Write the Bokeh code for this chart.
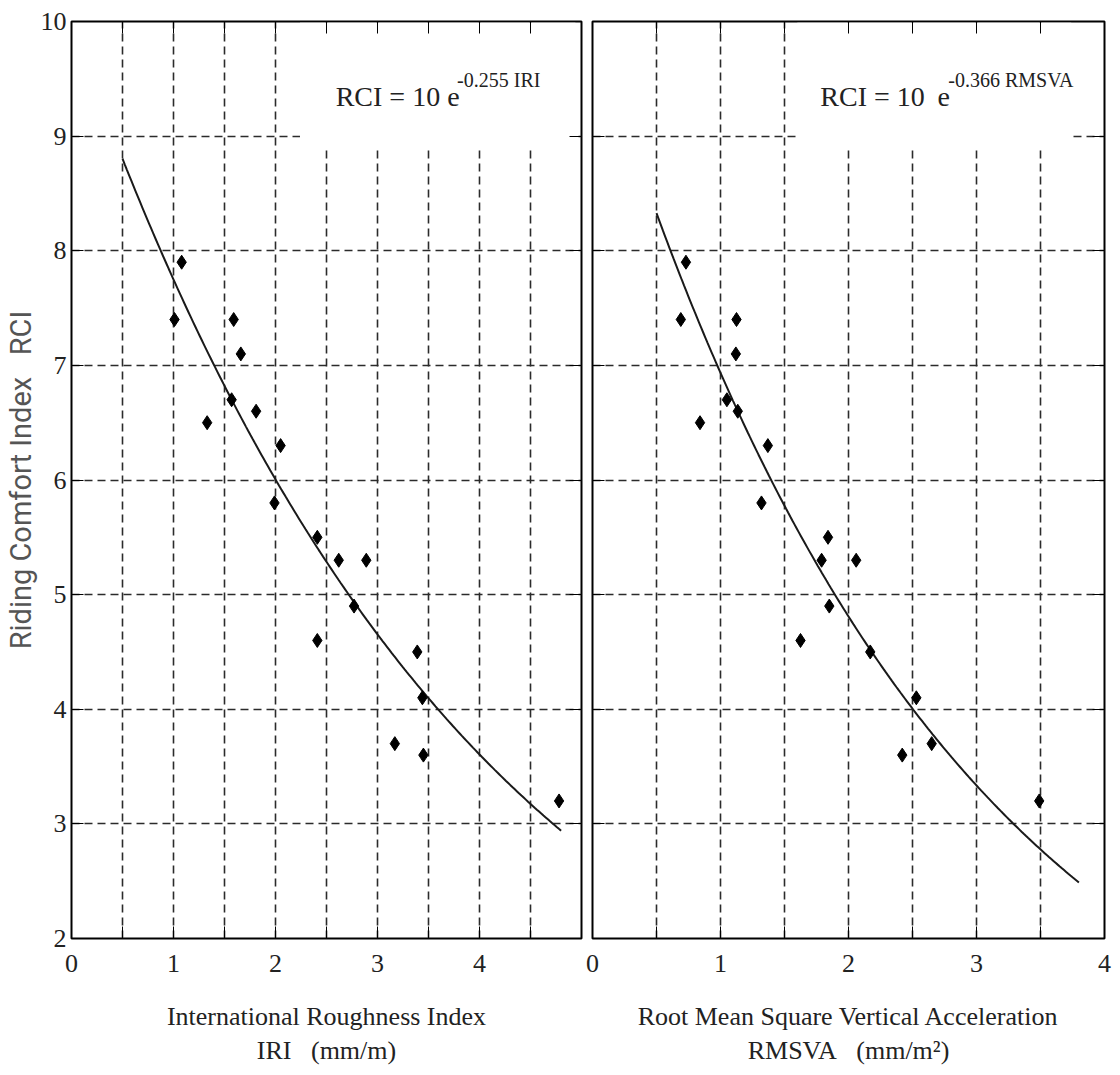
import numpy as np
from bokeh.plotting import figure
from bokeh.models import FixedTicker, LinearAxis, Label, CustomJSTickFormatter, Range1d
from bokeh.layouts import row
from bokeh.embed import file_html
from bokeh.resources import INLINE

# ---------------- data ----------------
iri = [1.01, 1.08, 1.33, 1.59, 1.66, 1.57, 1.81, 2.05, 1.99, 2.41,
       2.62, 2.89, 2.77, 2.41, 3.39, 3.44, 3.17, 3.45, 4.78]
rci_iri = [7.4, 7.9, 6.5, 7.4, 7.1, 6.7, 6.6, 6.3, 5.8, 5.5,
           5.3, 5.3, 4.9, 4.6, 4.5, 4.1, 3.7, 3.6, 3.2]

rmsva = [0.73, 0.69, 1.125, 1.12, 1.05, 1.135, 0.84, 1.37, 1.32, 1.84,
         1.79, 2.06, 1.85, 1.625, 2.17, 2.53, 2.65, 2.42, 3.49]
rci_rmsva = [7.9, 7.4, 7.4, 7.1, 6.7, 6.6, 6.5, 6.3, 5.8, 5.5,
             5.3, 5.3, 4.9, 4.6, 4.5, 4.1, 3.7, 3.6, 3.2]

# fitted models as printed on the chart: RCI = 10 e^(-k x)
fit_a = 10.0
fit_k_iri = 0.255
fit_k_rmsva = 0.366
fit_range_iri = (0.5, 4.8)
fit_range_rmsva = (0.5, 3.8)

x_ticks_left = [0, 1, 2, 3, 4]
x_ticks_right = [0, 1, 2, 3, 4]
y_ticks = [2, 3, 4, 5, 6, 7, 8, 9, 10]

SERIF = "Liberation Serif"
GRID_COLOR = "#2b2b2b"
NB = "\u00a0"


def blank_axis(ticker, tick_len):
    return LinearAxis(ticker=ticker,
                      formatter=CustomJSTickFormatter(code="return ''"),
                      major_tick_in=tick_len, major_tick_out=0,
                      minor_tick_in=tick_len, minor_tick_out=0,
                      major_tick_line_color="black", minor_tick_line_color="black",
                      axis_line_color=None, major_label_standoff=0,
                      major_label_text_font_size="0px")


def make_panel(frame_w, xmax, xticks, xs, ys, k, frange, xlabel,
               eq_main, eq_sup, eq_x, eq_sup_x, box, border_left, border_right,
               show_ylabels):
    p = figure(frame_width=frame_w, frame_height=917, output_backend="svg",
               toolbar_location=None,
               x_range=Range1d(0, xmax), y_range=Range1d(2, 10),
               min_border_left=border_left, min_border_right=border_right,
               min_border_top=21, min_border_bottom=128)
    p.background_fill_color = "white"
    p.border_fill_color = "white"
    p.outline_line_color = "black"
    p.outline_line_width = 2

    halves = [v / 2 for v in range(1, int(xmax * 2))]
    minor = [h for h in halves if h not in xticks] + ([xmax] if xmax not in xticks else [])
    xtk = FixedTicker(ticks=xticks, minor_ticks=minor)
    ytk = FixedTicker(ticks=y_ticks, minor_ticks=[])

    xa = p.xaxis[0]
    xa.ticker = xtk
    ya = p.yaxis[0]
    ya.ticker = ytk
    for ax in (xa, ya):
        ax.axis_line_color = None
        ax.major_tick_in = 12
        ax.major_tick_out = 0
        ax.minor_tick_in = 12
        ax.minor_tick_out = 0
        ax.major_tick_line_color = "black"
        ax.minor_tick_line_color = "black"
        ax.major_label_text_font = SERIF
        ax.major_label_text_font_size = "26px"
        ax.major_label_text_color = "#222222"
    xa.major_label_standoff = 16
    xa.axis_label = xlabel
    xa.axis_label_text_font = SERIF
    xa.axis_label_text_font_size = "26px"
    xa.axis_label_text_font_style = "normal"
    xa.axis_label_text_color = "#222222"
    xa.axis_label_standoff = 27

    if show_ylabels:
        ya.major_label_standoff = 5
        ya.axis_label = "Riding Comfort Index" + NB * 3 + "RCI"
        ya.axis_label_text_font = "Roboto"
        ya.axis_label_text_font_size = "29px"
        ya.axis_label_text_font_style = "normal"
        ya.axis_label_text_color = "#555555"
        ya.axis_label_standoff = 0
    else:
        ya.formatter = CustomJSTickFormatter(code="return ''")
        ya.major_label_standoff = 0
        ya.major_label_text_font_size = "0px"

    p.add_layout(blank_axis(FixedTicker(ticks=xticks, minor_ticks=minor), 12), "above")
    p.add_layout(blank_axis(FixedTicker(ticks=y_ticks, minor_ticks=[]), 12), "right")

    # grid
    p.xgrid.ticker = FixedTicker(ticks=halves)
    p.ygrid.ticker = FixedTicker(ticks=y_ticks[1:-1])
    for g in (p.xgrid, p.ygrid):
        g.grid_line_color = GRID_COLOR
        g.grid_line_width = 1.6
        g.grid_line_dash = "8 5"

    # white box behind the equation
    p.quad(left=[box[0]], right=[box[1]], bottom=[box[2]], top=[box[3]],
           fill_color="white", line_color=None)

    # fitted curve
    cx = np.linspace(frange[0], frange[1], 200)
    cy = fit_a * np.exp(-k * cx)
    p.line(cx, cy, line_color="#1a1a1a", line_width=2)

    # data points
    p.scatter(xs, ys, marker="diamond", size=14, fill_color="black", line_color="black")

    p.add_layout(Label(x=eq_x, y=9.35, text=eq_main, text_font=SERIF,
                       text_font_size="28px", text_color="#222222",
                       text_baseline="alphabetic", text_align="left"))
    p.add_layout(Label(x=eq_sup_x, y=9.49, text=eq_sup, text_font=SERIF,
                       text_font_size="20px", text_color="#222222",
                       text_baseline="alphabetic", text_align="left"))
    return p


p1 = make_panel(510, 5, x_ticks_left, iri, rci_iri, fit_k_iri, fit_range_iri,
                "International Roughness Index\nIRI" + NB * 3 + "(mm/m)",
                "RCI = 10 e", "-0.255 IRI", 2.59, 3.78,
                (2.24, 4.94, 8.88, 9.99), 71, 4, True)
p2 = make_panel(512, 4, x_ticks_right, rmsva, rci_rmsva, fit_k_rmsva, fit_range_rmsva,
                "Root Mean Square Vertical Acceleration\nRMSVA" + NB * 3 + "(mm/m\u00b2)",
                "RCI = 10 \u2009e", "-0.366 RMSVA", 1.78, 2.78,
                (1.6, 3.74, 8.88, 9.99), 7, 8, False)

layout = row(p1, p2, spacing=0)
open("out.html", "w").write(file_html(layout, INLINE))
